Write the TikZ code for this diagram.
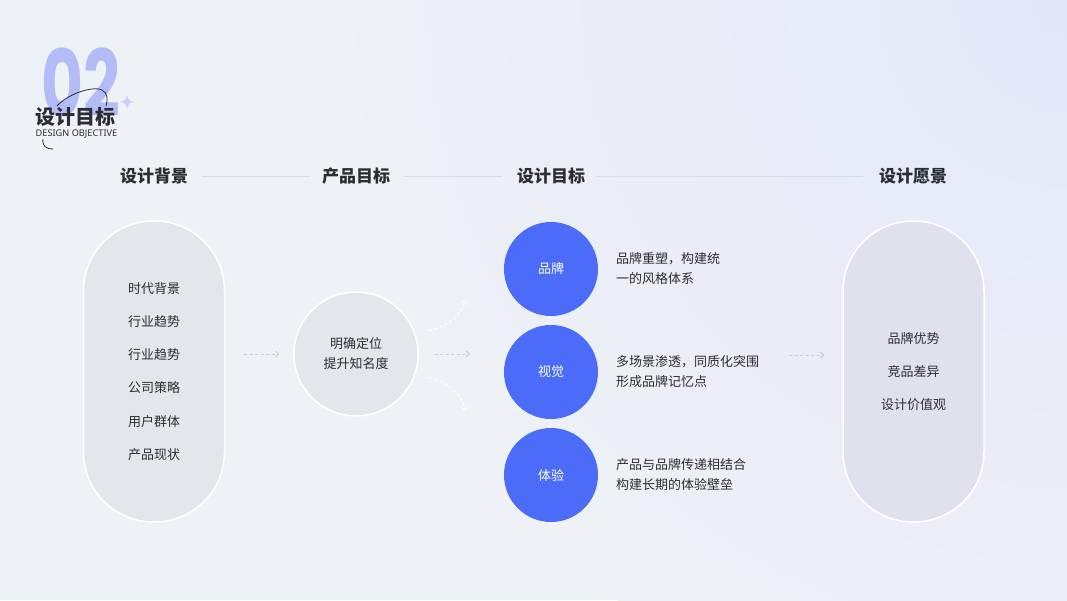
\documentclass[tikz,border=0pt]{standalone}
\usepackage{fontspec}
\setmainfont{Noto Sans CJK SC}
\newfontfamily\latinf{Noto Sans}
\newfontfamily\numf{Poppins}
\usetikzlibrary{arrows.meta,fadings,shapes.geometric}
\definecolor{bgL}{HTML}{EEF1F5}
\definecolor{bgR}{HTML}{E4E7F9}
\definecolor{txt}{HTML}{2B2D33}
\definecolor{hline}{HTML}{D9DDE4}
\definecolor{pillL}{HTML}{E3E6EA}
\definecolor{pillR}{HTML}{DFE2EC}
\definecolor{blueC}{HTML}{4A6CF9}
\definecolor{arr}{HTML}{C9CDD6}
\definecolor{numc}{HTML}{B3BCF7}
\tikzset{
  hdr/.style={font=\bfseries\fontsize{17}{20}\selectfont, text=txt, inner sep=0pt},
  item/.style={font=\fontsize{13}{16}\selectfont, text=txt, inner sep=0pt},
  desc/.style={font=\fontsize{13}{20}\selectfont, text=txt, align=left, anchor=west, inner sep=0pt},
  pill/.style={rectangle, rounded corners=70pt, minimum width=141pt, minimum height=301pt, draw=white, line width=1.5pt, inner sep=0pt},
  bluec/.style={circle, fill=blueC, minimum size=94pt, inner sep=0pt, text=white, font=\fontsize{13}{16}\selectfont},
  hl/.style={draw=hline, line width=1pt},
  darr/.style={draw=arr, line width=1pt, dash pattern=on 3pt off 2.5pt, -{Straight Barb[length=3pt,width=6pt]}},
  farr/.style={draw=white, line width=1pt, dash pattern=on 3pt off 2.5pt, -{Straight Barb[length=3pt,width=6pt]}},
}
\begin{document}
\begin{tikzpicture}[x=1pt,y=-1pt]
\useasboundingbox (0,0) rectangle (1067,600);
\fill[bgL] (0,0) rectangle (1067,600);
\begin{scope}
\clip (0,0) rectangle (1067,600);
\shade[inner color=bgR, outer color=bgL] (1067,0) circle (750);
\end{scope}

% title block
\node[inner sep=0pt, text=numc, font=\numf\bfseries\fontsize{92}{92}\selectfont, xscale=0.70, path fading=south] (num) at (81,82) {02};
\draw[txt, line width=0.8pt] (57,106) .. controls (70,92) and (95,86) .. (102,90) .. controls (108,93) and (108,100) .. (106,106);
\draw[txt, line width=0.8pt] (43,139) .. controls (42,146) and (46,149) .. (53,149);
\fill[numc!70] (127,95) .. controls (128,100) and (129,101) .. (134,102) .. controls (129,103) and (128,104) .. (127,109) .. controls (126,104) and (125,103) .. (120,102) .. controls (125,101) and (126,100) .. (127,95) -- cycle;
\node[inner sep=0pt, text=txt, font=\bfseries\fontsize{20}{22}\selectfont, anchor=west] (ttl) at (35,117) {设计目标};
\node[inner sep=0pt, text=txt, font=\latinf\fontsize{9.2}{10}\selectfont, anchor=west] (sub) at (35.5,134) {DESIGN OBJECTIVE};

% headers
\node[hdr] (h1) at (154,176) {设计背景};
\node[hdr] (h2) at (356,176) {产品目标};
\node[hdr] (h3) at (551,176) {设计目标};
\node[hdr] (h4) at (913,176) {设计愿景};
\draw[hl, shorten <=14pt, shorten >=13pt] (h1.east) -- (h2.west);
\draw[hl, shorten <=14pt, shorten >=15pt] (h2.east) -- (h3.west);
\draw[hl, shorten <=12pt, shorten >=16pt] (h3.east) -- (h4.west);

% left pill
\node[pill, fill=pillL] (pl) at (154,371.5) {};
\node[item] (l1) at (154,289) {时代背景};
\node[item] (l2) at (154,322) {行业趋势};
\node[item] (l3) at (154,355) {行业趋势};
\node[item] (l4) at (154,388) {公司策略};
\node[item] (l5) at (154,422) {用户群体};
\node[item] (l6) at (154,455) {产品现状};

% middle circle
\node[circle, fill=pillL, draw=white, line width=1.5pt, minimum size=124pt, inner sep=0pt, align=center, text=txt, font=\fontsize{13}{20}\selectfont] (mc) at (356,354) {明确定位\\提升知名度};

% blue circles
\node[bluec] (b1) at (551,269) {品牌};
\node[bluec] (b2) at (551,372) {视觉};
\node[bluec] (b3) at (551,475) {体验};
\node[desc] (d1) at (616,269) {品牌重塑，构建统\\一的风格体系};
\node[desc] (d2) at (616,372) {多场景渗透，同质化突围\\形成品牌记忆点};
\node[desc] (d3) at (616,475) {产品与品牌传递相结合\\构建长期的体验壁垒};

% right pill
\node[pill, fill=pillR] (pr) at (913.5,371.5) {};
\node[item] (r1) at (913.5,339) {品牌优势};
\node[item] (r2) at (913.5,372) {竞品差异};
\node[item] (r3) at (913.5,405) {设计价值观};

% connectors
\draw[darr, shorten <=19pt, shorten >=14pt] (pl.east |- mc.center) -- (mc.west);
\draw[darr, shorten <=16pt, shorten >=34pt] (mc.east) -- (b2.west |- mc.center);
\coordinate (ct) at (466,300);
\coordinate (cb) at (466,411);
\draw[farr] (mc.20) ++(14,-2) .. controls (452,325) and (460,315) .. (ct);
\draw[farr] (mc.-20) ++(14,2) .. controls (452,384) and (460,394) .. (cb);
\coordinate (ra) at (789,355);
\draw[darr, shorten >=18pt] (ra) -- (pr.west |- ra);
\end{tikzpicture}
\end{document}
